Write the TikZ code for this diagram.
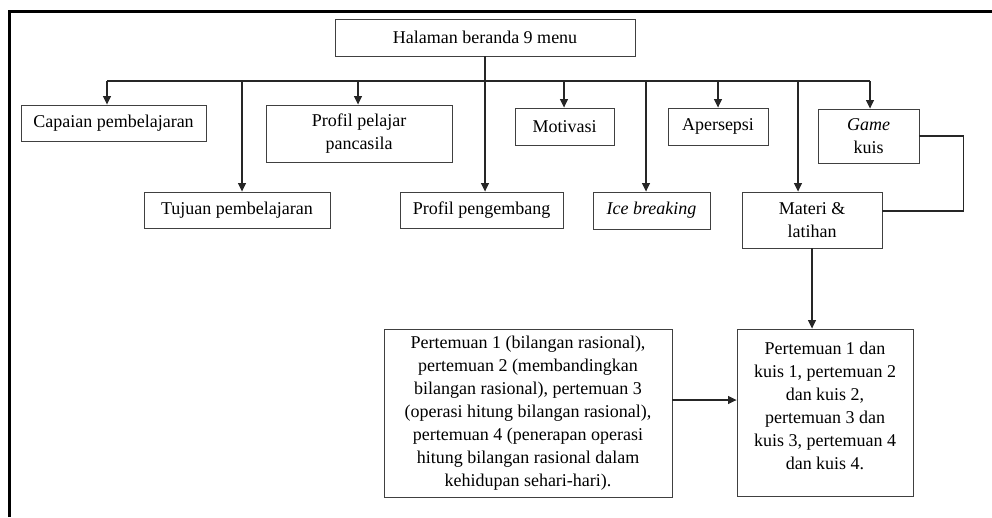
\documentclass[tikz,border=0pt]{standalone}
\usepackage{fontspec}
\setmainfont{Liberation Serif}
\usetikzlibrary{arrows.meta}
\colorlet{boxline}{black!75}
\colorlet{linkline}{black!85}
\tikzset{
    menubox/.style={
        draw=boxline,
        line width=0.9pt,
        rectangle,
        align=center,
        inner sep=0pt,
        font=\fontsize{18}{23}\selectfont
        },
    link/.style={
        draw=linkline,
        line width=1.1pt
        },
    >={Triangle[length=8.5pt,width=8pt]}
}

\begin{document}
\begin{tikzpicture}[x=1pt,y=-1pt]
\useasboundingbox (0,0) rectangle (992,517);
% frame of the page
\draw[line width=3pt] (9,517) -- (9,11) -- (993,11);

\node[menubox, minimum width=300pt, minimum height=37pt] (home) at (485,37.5) {Halaman beranda 9 menu};

% first row
\node[menubox, minimum width=185pt, minimum height=36pt] (capaian) at (113.5,123) {Capaian pembelajaran};
\node[menubox, minimum width=186pt, minimum height=57pt] (pelajar) at (359,133.5) {Profil pelajar\\pancasila};
\node[menubox, minimum width=99pt, minimum height=37pt] (motivasi) at (564.5,126.5) {Motivasi};
\node[menubox, minimum width=100pt, minimum height=37pt] (apersepsi) at (718,126.5) {Apersepsi};
\node[menubox, minimum width=101pt, minimum height=54pt] (game) at (868.5,136) {\textit{Game}\\kuis};

% second row
\node[menubox, minimum width=186pt, minimum height=36pt] (tujuan) at (237,210) {Tujuan pembelajaran};
\node[menubox, minimum width=163pt, minimum height=36pt] (pengembang) at (481.5,210) {Profil pengembang};
\node[menubox, minimum width=117pt, minimum height=37pt] (ice) at (651.5,210.5) {\textit{Ice breaking}};
\node[menubox, minimum width=140pt, minimum height=56pt] (materi) at (812,220) {Materi \&\\latihan};

% meetings
\node[menubox, minimum width=288pt, minimum height=168pt] (pertemuan) at (528,413) {%
    Pertemuan 1 (bilangan rasional),\\
    pertemuan 2 (membandingkan\\
    bilangan rasional), pertemuan 3\\
    (operasi hitung bilangan rasional),\\
    pertemuan 4 (penerapan operasi\\
    hitung bilangan rasional dalam\\
    kehidupan sehari-hari).};
\node[menubox, minimum width=176pt, minimum height=167pt] (kuis) at (825,412.5) {%
    \parbox[c][167pt][t]{172pt}{\centering\vspace*{13pt}%
    Pertemuan 1 dan\\
    kuis 1, pertemuan 2\\
    dan kuis 2,\\
    pertemuan 3 dan\\
    kuis 3, pertemuan 4\\
    dan kuis 4.}};

% connectors
\foreach \x/\n in {107/capaian, 242/tujuan, 358/pelajar, 564/motivasi,
                   646/ice, 718/apersepsi, 798/materi, 870/game}{
    \coordinate (top-\n) at (\x,81);
    \draw[link,->] (top-\n) -- (top-\n |- \n.north);
}
\draw[link] (top-capaian) -- (top-game);
\draw[link,->] (home.south) -- (home.south |- pengembang.north);
\draw[link] (game.east) -- ++(44,0) |- ([yshift=9pt]materi.east);
\draw[link,->] (materi.south) -- (materi.south |- kuis.north);
\draw[link,->] ([yshift=13pt]pertemuan.east) -- ([yshift=13pt]pertemuan.east -| kuis.west);
\end{tikzpicture}
\end{document}
